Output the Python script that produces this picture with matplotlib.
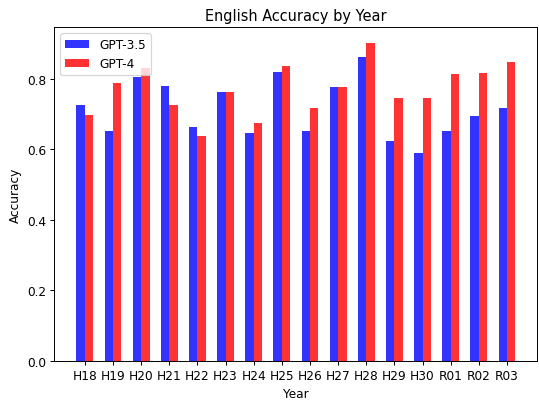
import numpy as np
import matplotlib
matplotlib.use("Agg")
import matplotlib.pyplot as plt


years = ["H18", "H19", "H20", "H21", "H22", "H23", "H24", "H25",
         "H26", "H27", "H28", "H29", "H30", "R01", "R02", "R03"]
gpt35 = [0.726, 0.653, 0.806, 0.779, 0.662, 0.761, 0.647, 0.819,
         0.652, 0.777, 0.861, 0.623, 0.588, 0.652, 0.695, 0.718]
gpt4 = [0.696, 0.788, 0.830, 0.726, 0.639, 0.761, 0.674, 0.836,
        0.718, 0.777, 0.901, 0.746, 0.746, 0.814, 0.816, 0.846]

bar_width = 0.3
x = np.arange(len(years))

dpi = 87
fig, ax = plt.subplots(figsize=(539 / dpi, 403 / dpi), dpi=dpi)
fig.subplots_adjust(left=0.101, right=0.997, top=0.930, bottom=0.102)

ax.bar(x - bar_width / 2, gpt35, bar_width, label="GPT-3.5", color="blue", alpha=0.8)
ax.bar(x + bar_width / 2, gpt4, bar_width, label="GPT-4", color="red", alpha=0.8)

ax.set_title("English Accuracy by Year")
ax.set_xlabel("Year")
ax.set_ylabel("Accuracy")
ax.set_xticks(x)
ax.set_xticklabels(years)
ax.legend(loc="upper left")

fig.savefig("out.png")
